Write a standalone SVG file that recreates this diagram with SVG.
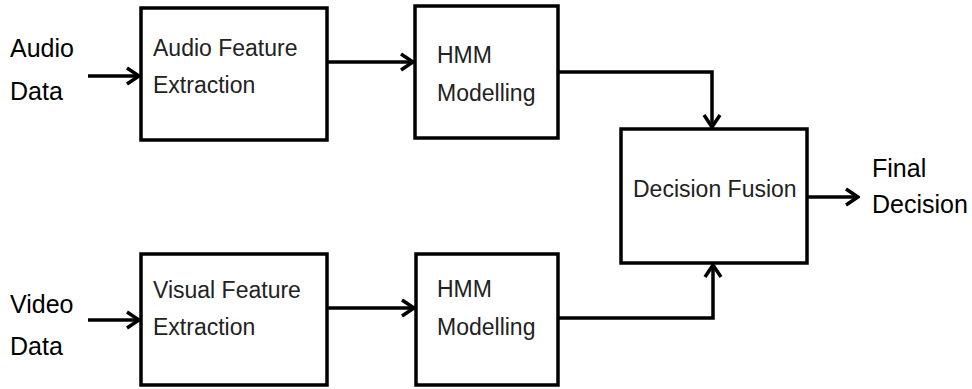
<svg xmlns="http://www.w3.org/2000/svg" width="972" height="389" viewBox="0 0 972 389">
<style>
.box{fill:#fff;stroke:#000;stroke-width:3.5}
.conn{fill:none;stroke:#000;stroke-width:3.5}
.t{font-family:"Liberation Sans",Arial,sans-serif;font-size:23px;fill:#222}
.lbl{font-family:"Liberation Sans",Arial,sans-serif;font-size:25px;fill:#000}
</style>
<defs>
<marker id="arr" markerUnits="userSpaceOnUse" viewBox="0 0 16 20" refX="14" refY="10" markerWidth="16" markerHeight="20" orient="auto">
<path d="M2,2 L14,10 L2,18" fill="none" stroke="#000" stroke-width="3.5"/>
</marker>
</defs>
<rect width="972" height="389" fill="#fff"/>
<g id="connectors">
<path class="conn" d="M88,76 H139" marker-end="url(#arr)"/>
<path class="conn" d="M327,62 H413" marker-end="url(#arr)"/>
<path class="conn" d="M558,72 H712 V127" marker-end="url(#arr)"/>
<path class="conn" d="M88,320 H139" marker-end="url(#arr)"/>
<path class="conn" d="M327,308 H414" marker-end="url(#arr)"/>
<path class="conn" d="M558,318 H713 V265" marker-end="url(#arr)"/>
<path class="conn" d="M807,197 H858" marker-end="url(#arr)"/>
</g>
<g id="audio-data">
<text class="lbl" x="10" y="57">Audio</text>
<text class="lbl" x="10" y="100">Data</text>
</g>
<g id="video-data">
<text class="lbl" x="10" y="313">Video</text>
<text class="lbl" x="10" y="355">Data</text>
</g>
<g id="audio-feature">
<rect class="box" x="141" y="8" width="186" height="132"/>
<text class="t" x="153" y="56">Audio Feature</text>
<text class="t" x="153" y="93">Extraction</text>
</g>
<g id="hmm-audio">
<rect class="box" x="415" y="6" width="143" height="132"/>
<text class="t" x="437" y="63">HMM</text>
<text class="t" x="437" y="101">Modelling</text>
</g>
<g id="visual-feature">
<rect class="box" x="141" y="254" width="186" height="131"/>
<text class="t" x="153" y="298">Visual Feature</text>
<text class="t" x="153" y="335">Extraction</text>
</g>
<g id="hmm-video">
<rect class="box" x="416" y="254" width="142" height="131"/>
<text class="t" x="437" y="297">HMM</text>
<text class="t" x="437" y="335">Modelling</text>
</g>
<g id="decision-fusion">
<rect class="box" x="621" y="129" width="186" height="134"/>
<text class="t" x="633" y="197">Decision Fusion</text>
</g>
<g id="final-decision">
<text class="lbl" x="872" y="177">Final</text>
<text class="lbl" x="872" y="213">Decision</text>
</g>
</svg>
